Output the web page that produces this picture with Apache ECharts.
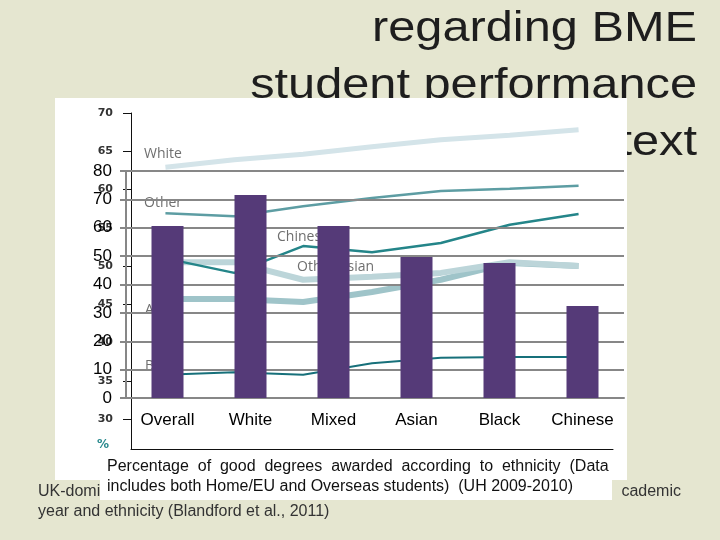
<!DOCTYPE html>
<html>
<head>
<meta charset="utf-8">
<script src="https://cdn.jsdelivr.net/npm/echarts@6/dist/echarts.min.js"></script>
<style>html,body{margin:0;padding:0;background:#e5e6d0;}#c{width:720px;height:540px;}</style>
</head>
<body>
<div id="c"></div>
<script>
// Background trend chart (Blandford et al., 2011)
const years = ['2003/04','2004/05','2005/06','2006/07','2007/08','2008/09','2009/10'];
const trendTicks = [30, 35, 40, 45, 50, 55, 60, 65, 70];
const whiteTrend = [62.9, 63.9, 64.6, 65.6, 66.5, 67.1, 67.8];
const otherTrend = [56.9, 56.5, 57.8, 58.9, 59.8, 60.1, 60.5];
const chineseTrend = [51.0, 49.1, 52.6, 51.8, 53.0, 55.4, 56.8];
const otherAsianTrend = [50.5, 50.5, 48.2, 48.6, 49.1, 50.5, 50.0];
const asianTrend = [45.7, 45.7, 45.3, 46.6, 48.2, 50.4, 50.0];
const blackTrend = [35.8, 36.1, 35.8, 37.3, 38.0, 38.1, 38.1];

// Foreground bar chart (UH 2009-2010)
const categories = ['Overall', 'White', 'Mixed', 'Asian', 'Black', 'Chinese'];
const goodDegrees = [60.6, 71.5, 60.6, 49.7, 47.6, 32.4];

const chart = echarts.init(document.getElementById('c'));
const sans = 'Liberation Sans, Arial, sans-serif';

function txt(x, y, text, font, fill, align, z, sx) {
  return { type: 'text', x: x, y: y, z: z, silent: true, scaleX: sx || 1,
    style: { text: text, font: font, fill: fill, align: align || 'left', verticalAlign: 'middle' } };
}

const trendLine = (name, data, color, width, z) => ({
  name: name, type: 'line', xAxisIndex: 0, yAxisIndex: 0, data: data,
  symbol: 'none', z: z, silent: true,
  lineStyle: { color: color, width: width }
});

chart.setOption({
  backgroundColor: '#e5e6d0',
  animation: false,
  graphic: [
    txt(697, 29, 'regarding BME', '42px ' + sans, '#1e1e1e', 'right', -30, 1.16),
    txt(697, 86, 'student performance', '42px ' + sans, '#1e1e1e', 'right', -30, 1.16),
    txt(697, 143, 'text', '42px ' + sans, '#1e1e1e', 'right', -30, 1.16),
    { type: 'rect', z: -20, silent: true, shape: { x: 55, y: 98, width: 572, height: 382 }, style: { fill: '#ffffff' } },
    txt(144, 154, 'White', '14px Open Sans, sans-serif', '#6f6f6f', 'left', 1),
    txt(144, 203, 'Other', '14px Open Sans, sans-serif', '#6f6f6f', 'left', 1),
    txt(277, 237, 'Chinese', '14px Open Sans, sans-serif', '#6f6f6f', 'left', 1),
    txt(297, 267, 'Other Asian', '14px Open Sans, sans-serif', '#6f6f6f', 'left', 1),
    txt(145, 310, 'Asian', '14px Open Sans, sans-serif', '#6f6f6f', 'left', 1),
    txt(145, 366, 'Black', '14px Open Sans, sans-serif', '#6f6f6f', 'left', 1),
    txt(97, 445, '%', 'bold 12px DejaVu Sans, sans-serif', '#2a8a8e', 'left', 1),
    txt(38, 492, 'UK-domi', '16px ' + sans, '#333333', 'left', 5),
    txt(681, 492, 'cademic', '16px ' + sans, '#333333', 'right', 5),
    txt(38, 512, 'year and ethnicity (Blandford et al., 2011)', '16px ' + sans, '#333333', 'left', 5),
    { type: 'rect', z: 10, silent: true, shape: { x: 100, y: 455, width: 512, height: 45 }, style: { fill: '#ffffff' } },
    txt(107, 467, 'Percentage  of  good  degrees  awarded  according  to  ethnicity  (Data', '16px ' + sans, '#111111', 'left', 11),
    txt(107, 487, 'includes both Home/EU and Overseas students)  (UH 2009-2010)', '16px ' + sans, '#111111', 'left', 11)
  ],
  grid: [
    { left: 131, right: 107, top: 113, bottom: 91 },
    { left: 126, right: 96, top: 171, bottom: 142 }
  ],
  xAxis: [
    { type: 'category', gridIndex: 0, data: years, z: 0,
      axisLine: { lineStyle: { color: '#111', width: 1 } },
      axisTick: { inside: true, length: 6, alignWithLabel: true, lineStyle: { color: '#111' } },
      axisLabel: { show: false } },
    { type: 'category', gridIndex: 1, data: categories, z: 3,
      axisLine: { lineStyle: { color: '#878787', width: 2 } },
      axisTick: { length: 5, lineStyle: { color: '#878787', width: 2 } },
      axisLabel: { color: '#000', fontSize: 17, fontFamily: sans, margin: 14 } }
  ],
  yAxis: [
    { type: 'value', gridIndex: 0, min: 26.08, max: 70, z: 0,
      axisLine: { show: true, lineStyle: { color: '#111', width: 1 } },
      axisTick: { show: true, length: 8, customValues: trendTicks, lineStyle: { color: '#111' } },
      axisLabel: { customValues: trendTicks, color: '#333', fontSize: 11, fontWeight: 'bold', fontFamily: 'DejaVu Sans, sans-serif', margin: 18 },
      splitLine: { show: false } },
    { type: 'value', gridIndex: 1, min: 0, max: 80, interval: 10, z: 3,
      axisLine: { show: true, lineStyle: { color: '#878787', width: 2 } },
      axisTick: { show: true, length: 6, lineStyle: { color: '#878787', width: 2 } },
      axisLabel: { color: '#000', fontSize: 17, fontFamily: sans, margin: 14 },
      splitLine: { show: true, lineStyle: { color: '#878787', width: 2 } } }
  ],
  series: [
    trendLine('White', whiteTrend, '#d4e4e9', 5, 1),
    trendLine('Other', otherTrend, '#5d9da3', 2.5, 1),
    trendLine('Asian', asianTrend, '#9fc4c9', 6, 1),
    trendLine('Other Asian', otherAsianTrend, '#bcd5d9', 6, 1),
    trendLine('Chinese', chineseTrend, '#248589', 2.5, 1),
    trendLine('Black', blackTrend, '#17707a', 2, 1),
    { name: 'Good degrees', type: 'bar', xAxisIndex: 1, yAxisIndex: 1, data: goodDegrees,
      barWidth: 32, z: 4, silent: true, itemStyle: { color: '#553a78' } }
  ]
});
</script>
</body>
</html>
